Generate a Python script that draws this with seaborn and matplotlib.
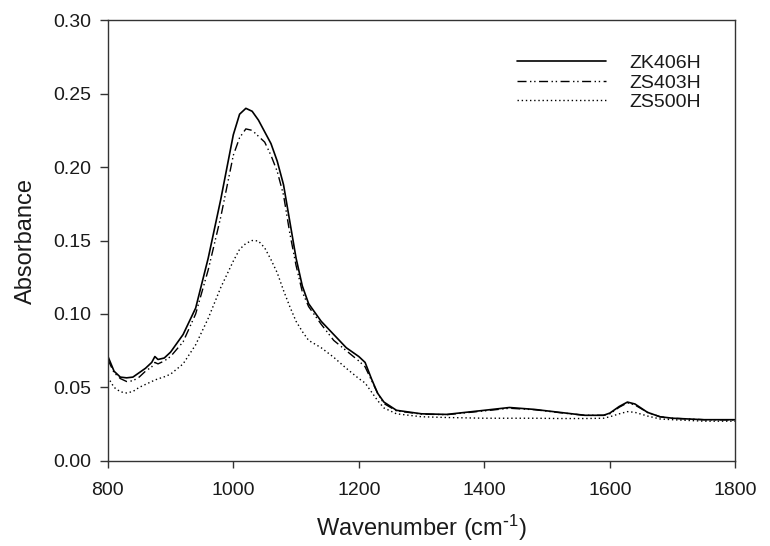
import numpy as np
import pandas as pd
import matplotlib
matplotlib.use('Agg')
import matplotlib.pyplot as plt
import seaborn as sns

# wavenumber grid (cm-1) and absorbance values
wavenumber = [800, 810, 820, 830, 840, 850, 860, 870, 875, 880, 890, 900, 920, 940, 960, 980,
              1000, 1010, 1020, 1030, 1040, 1050, 1060, 1070, 1080, 1090, 1100, 1110, 1120, 1140,
              1160, 1180, 1200, 1210, 1220, 1230, 1240, 1260, 1300, 1340, 1400, 1440, 1480, 1520,
              1560, 1590, 1600, 1615, 1628, 1640, 1660, 1680, 1700, 1750, 1800]

zk406h = [0.0713, 0.061, 0.057, 0.0565, 0.057, 0.060, 0.063, 0.067, 0.071, 0.069, 0.070, 0.074,
          0.086, 0.104, 0.138, 0.178, 0.222, 0.236, 0.240, 0.238, 0.232, 0.224, 0.216, 0.204,
          0.188, 0.163, 0.138, 0.119, 0.107, 0.095, 0.086, 0.077, 0.071, 0.067, 0.056, 0.046,
          0.040, 0.0344, 0.032, 0.0316, 0.0344, 0.0363, 0.035, 0.033, 0.031, 0.031, 0.0325,
          0.037, 0.040, 0.0387, 0.033, 0.030, 0.029, 0.028, 0.028]

zs403h = [0.069, 0.060, 0.056, 0.054, 0.0545, 0.057, 0.061, 0.064, 0.067, 0.066, 0.068, 0.071,
          0.081, 0.100, 0.130, 0.166, 0.208, 0.220, 0.226, 0.225, 0.221, 0.217, 0.208, 0.197,
          0.181, 0.155, 0.133, 0.115, 0.105, 0.093, 0.082, 0.075, 0.068, 0.064, 0.055, 0.046,
          0.039, 0.034, 0.0318, 0.0314, 0.034, 0.0358, 0.0348, 0.0328, 0.031, 0.031, 0.032,
          0.0365, 0.0395, 0.038, 0.033, 0.030, 0.029, 0.028, 0.0278]

zs500h = [0.057, 0.050, 0.047, 0.0462, 0.0472, 0.050, 0.052, 0.054, 0.055, 0.0558, 0.0572, 0.059,
          0.066, 0.079, 0.097, 0.118, 0.136, 0.144, 0.148, 0.150, 0.1497, 0.145, 0.137, 0.128,
          0.116, 0.105, 0.095, 0.088, 0.082, 0.077, 0.0705, 0.063, 0.056, 0.053, 0.047, 0.041,
          0.036, 0.032, 0.030, 0.0295, 0.029, 0.029, 0.029, 0.0288, 0.0288, 0.029, 0.030,
          0.032, 0.0335, 0.033, 0.0305, 0.0285, 0.028, 0.027, 0.027]

sns.set_style('ticks')
plt.rcParams['font.family'] = ['Liberation Sans', 'DejaVu Sans']
plt.rcParams['mathtext.default'] = 'regular'

fig, ax = plt.subplots(figsize=(7.7, 5.46), dpi=100)
fig.subplots_adjust(left=0.140, right=0.955, top=0.963, bottom=0.156)

sns.lineplot(x=wavenumber, y=zk406h, ax=ax, color='black', lw=1.2, label='ZK406H')
sns.lineplot(x=wavenumber, y=zs403h, ax=ax, color='black', lw=1.0,
             linestyle=(0, (6.5, 2.5, 1, 2, 1, 2.5)), label='ZS403H')
sns.lineplot(x=wavenumber, y=zs500h, ax=ax, color='black', lw=1.0,
             linestyle=(0, (1, 2)), label='ZS500H')

ax.set_xlim(800, 1800)
ax.set_ylim(0, 0.30)
ax.set_xticks([800, 1000, 1200, 1400, 1600, 1800])
ax.set_yticks(np.arange(0, 0.31, 0.05))
ax.set_yticklabels([f'{v:.2f}' for v in np.arange(0, 0.31, 0.05)])

for side in ['top', 'right', 'left', 'bottom']:
    ax.spines[side].set_visible(True)
    ax.spines[side].set_color('#333333')
    ax.spines[side].set_linewidth(1.0)

ax.tick_params(axis='y', direction='out', length=6, width=1, pad=6, labelsize=14,
               colors='#333333', labelcolor='#1a1a1a')
ax.tick_params(axis='x', direction='out', length=5, width=1, pad=10, labelsize=14,
               colors='#333333', labelcolor='#1a1a1a')

ax.set_xlabel(r'Wavenumber (cm$^{\text{-}1}$)', fontsize=17, labelpad=10, color='#1a1a1a')
ax.set_ylabel('Absorbance', fontsize=17, labelpad=12, color='#1a1a1a')

leg = ax.legend(loc='upper left', bbox_to_anchor=(0.652, 0.922), frameon=False,
                fontsize=14, handlelength=4.6, handletextpad=1.2, labelspacing=0.1,
                borderpad=0, borderaxespad=0)
for t in leg.get_texts():
    t.set_color('#1a1a1a')

plt.savefig('out.png', dpi=100)
plt.close()
